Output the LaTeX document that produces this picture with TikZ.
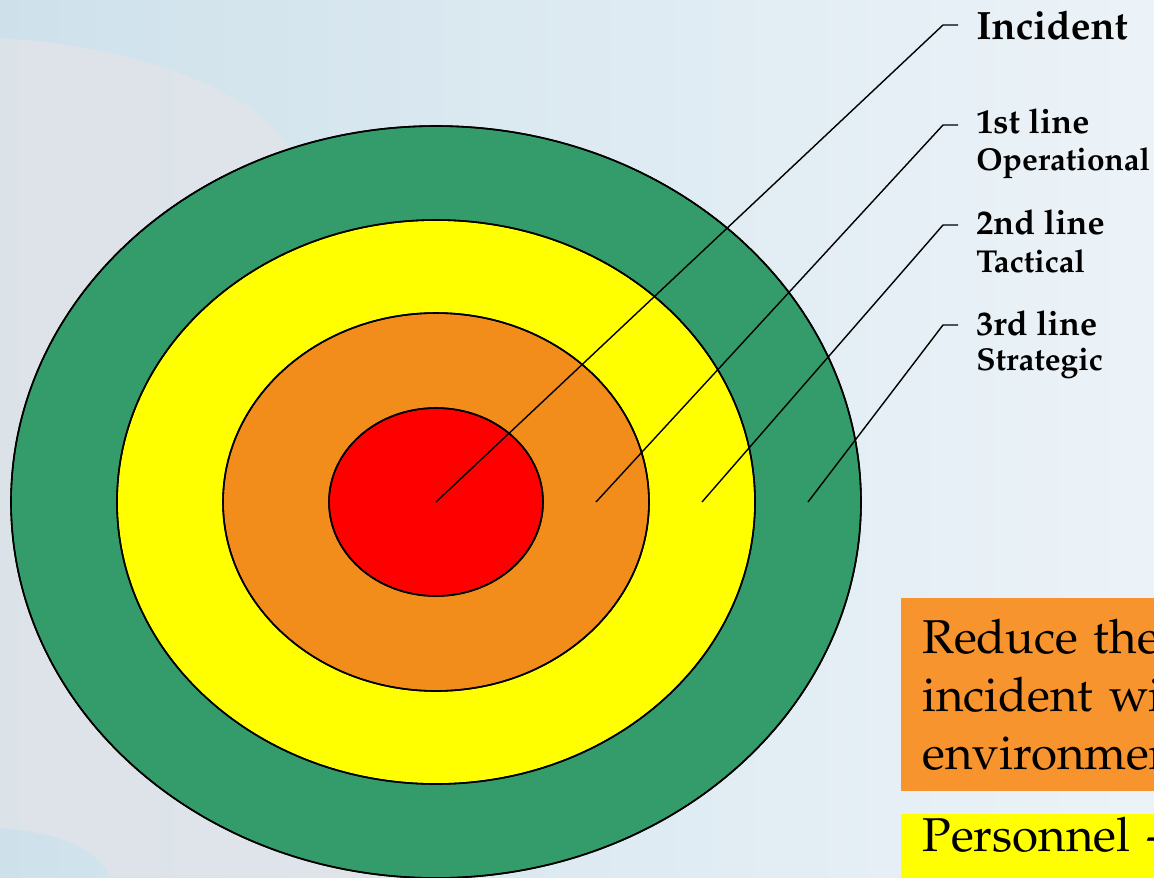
\documentclass[tikz,border=0pt]{standalone}
\usepackage[T1]{fontenc}
\usepackage{palatino}
\usetikzlibrary{positioning}

\definecolor{colorOuter}{RGB}{52,155,107}
\definecolor{colorMid}{RGB}{255,255,0}
\definecolor{colorInner}{RGB}{242,140,26}
\definecolor{colorCore}{RGB}{255,0,0}
\definecolor{colorBoxO}{RGB}{247,148,45}
\definecolor{colorBgA}{RGB}{206,225,235}
\definecolor{colorBgB}{RGB}{236,243,248}
\definecolor{colorHand}{RGB}{226,228,232}
\tikzset{
   ring/.style={draw=black,line width=0.9pt},
   lead/.style={draw=black,line width=0.8pt},
   lbl/.style={font=\bfseries\fontsize{22.5}{26}\selectfont,anchor=base west,inner ysep=0pt,inner xsep=0.36cm},
   toplbl/.style={font=\bfseries\fontsize{19.5}{22}\selectfont,anchor=base west,inner ysep=0pt,inner xsep=0.36cm},
   sublbl/.style={font=\bfseries\fontsize{18}{21}\selectfont,anchor=base west,inner ysep=0pt,inner xsep=0.36cm},
   notebox/.style={font=\fontsize{27}{33}\selectfont,anchor=north west,align=left,
     text width=5.4cm,inner xsep=0.42cm,inner ysep=0pt},
 }
\newcommand{\dlead}[3]{\draw[lead] (#1) -- (#2) -- (#2 -| #3.west)}

\begin{document}
\begin{tikzpicture}[x=0.02cm,y=-0.02cm]
      \useasboundingbox (0,0) rectangle (1154,877);
      \begin{scope}
      \clip (0,0) rectangle (1154,877);
      % backdrop
      \shade[left color=colorBgA,right color=colorBgB] (0,0) rectangle (1154,877);
      \fill[colorHand,opacity=.75] (0,38) .. controls (150,48) and (260,95) .. (290,150)
        -- (420,877) -- (110,877) .. controls (100,850) and (60,832) .. (0,828) -- cycle;

      % the rings
      \fill[ring,fill=colorOuter] (436,502) ellipse [x radius=425,y radius=376];
      \fill[ring,fill=colorMid] (436,502) ellipse [x radius=319,y radius=282];
      \fill[ring,fill=colorInner] (436,502) ellipse [x radius=213,y radius=189];
      \fill[ring,fill=colorCore] (436,502) ellipse [x radius=107,y radius=94];
      \draw[ring] (436,502) ellipse [x radius=425,y radius=376];
      \draw[ring] (436,502) ellipse [x radius=319,y radius=282];
      \draw[ring] (436,502) ellipse [x radius=213,y radius=189];
      \draw[ring] (436,502) ellipse [x radius=107,y radius=94];

      \coordinate (cInc) at (436,502);
      \coordinate (cOp) at (596,502);
      \coordinate (cTac) at (702,502);
      \coordinate (cStr) at (808,502);
      \coordinate (kInc) at (943,25);
      \coordinate (kOp) at (943,125);
      \coordinate (kTac) at (943,225);
      \coordinate (kStr) at (943,325);

      \node[lbl] (inc) at (958,39) {Incident};
      \dlead{cInc}{kInc}{inc};
      \node[toplbl] (op) at (958,133) {1st line};
      \node[sublbl] (opB) at (958,170) {Operational};
      \dlead{cOp}{kOp}{op};
      \node[toplbl] (tac) at (958,234) {2nd line};
      \node[sublbl] (tacB) at (958,272) {Tactical};
      \dlead{cTac}{kTac}{tac};
      \node[toplbl] (str) at (958,335) {3rd line};
      \node[sublbl] (strB) at (958,370) {Strategic};
      \dlead{cStr}{kStr}{str};

      % boxes on the right
      \node[notebox,fill=colorBoxO,minimum height=3.86cm] (reduce) at (901,598)
        {Reduce the\\incident wi\\environment};
      \node[notebox,fill=colorMid,minimum height=2cm,anchor=north west,text depth=1.2cm] (staff) at (901,814)
        {\rule{0pt}{0.62cm}Personnel -};
      \end{scope}
    \end{tikzpicture}
\end{document}
